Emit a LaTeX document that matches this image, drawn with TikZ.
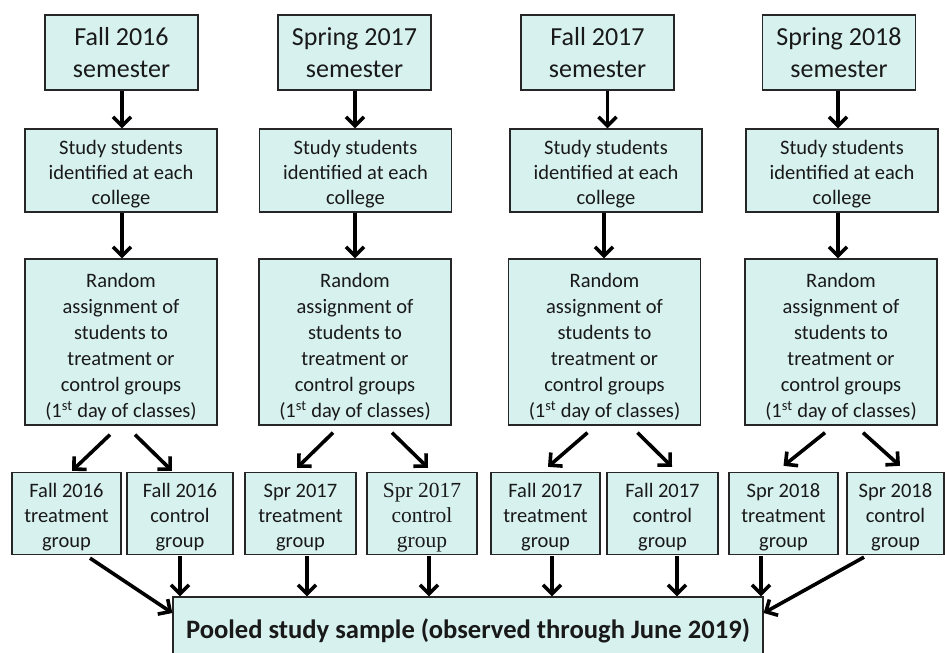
\documentclass[tikz,border=0pt]{standalone}
\usepackage{fontspec}
\setmainfont{Carlito}
\newfontfamily\serifalt{Liberation Serif}
\usetikzlibrary{arrows.meta,calc}
\definecolor{boxfill}{RGB}{214,241,238}
\newcommand{\lift}[1]{\rule{0pt}{#1}}
\begin{document}
\begin{tikzpicture}[x=1pt,y=-1pt,
  box/.style={draw=black!85,line width=1.3pt,fill=boxfill,align=center,inner sep=0pt,text=black!90},
  sembox/.style={box,minimum width=153pt,minimum height=75pt,font=\fontsize{26}{32}\selectfont},
  studybox/.style={box,minimum width=192pt,minimum height=83pt,font=\fontsize{20.5}{25}\selectfont},
  randbox/.style={box,minimum width=192pt,minimum height=166pt,font=\fontsize{20.5}{26}\selectfont},
  grpbox/.style={box,minimum height=82pt,font=\fontsize{20.5}{25}\selectfont},
  arr/.style={line width=3.6pt,-{Straight Barb[length=9pt,width=18pt,line width=3.6pt]}}]
\useasboundingbox (0,0) rectangle (945,653);

% semester boxes
\node[sembox] (s1) at (121.5,52.5) {Fall 2016\\semester};
\node[sembox] (s2) at (354.5,52.5) {Spring 2017\\semester};
\node[sembox] (s3) at (597.5,52.5) {Fall 2017\\semester};
\node[sembox] (s4) at (839,52.5) {Spring 2018\\semester};

% study boxes
\node[studybox] (d1) at (121,170.5) {\lift{22.5pt}Study students\\identified at each\\college};
\node[studybox] (d2) at (355.5,170.5) {\lift{22.5pt}Study students\\identified at each\\college};
\node[studybox] (d3) at (606,170.5) {\lift{22.5pt}Study students\\identified at each\\college};
\node[studybox] (d4) at (842,170.5) {\lift{22.5pt}Study students\\identified at each\\college};

% random assignment boxes
\node[randbox] (r1) at (121,342) {\lift{25pt}Random\\assignment of\\students to\\treatment or\\control groups\\(1\textsuperscript{st} day of classes)};
\node[randbox] (r2) at (355,342) {\lift{25pt}Random\\assignment of\\students to\\treatment or\\control groups\\(1\textsuperscript{st} day of classes)};
\node[randbox] (r3) at (604.5,342) {\lift{25pt}Random\\assignment of\\students to\\treatment or\\control groups\\(1\textsuperscript{st} day of classes)};
\node[randbox] (r4) at (841,342) {\lift{25pt}Random\\assignment of\\students to\\treatment or\\control groups\\(1\textsuperscript{st} day of classes)};

% group boxes
\node[grpbox,minimum width=109pt] (t1) at (66.5,513.5) {\lift{22.5pt}Fall 2016\\treatment\\group};
\node[grpbox,minimum width=106pt] (c1) at (180,513.5) {\lift{22.5pt}Fall 2016\\control\\group};
\node[grpbox,minimum width=111pt] (t2) at (300.5,513.5) {\lift{22.5pt}Spr 2017\\treatment\\group};
\node[grpbox,minimum width=110pt,font=\serifalt\fontsize{21.5}{25}\selectfont] (c2) at (422,513.5) {\lift{22.5pt}Spr 2017\\control\\group};
\node[grpbox,minimum width=109pt] (t3) at (545.5,513.5) {\lift{22.5pt}Fall 2017\\treatment\\group};
\node[grpbox,minimum width=111pt] (c3) at (662.5,513.5) {\lift{22.5pt}Fall 2017\\control\\group};
\node[grpbox,minimum width=109pt] (t4) at (783.5,513.5) {\lift{22.5pt}Spr 2018\\treatment\\group};
\node[grpbox,minimum width=97pt] (c4) at (895.5,513.5) {\lift{22.5pt}Spr 2018\\control\\group};

% pooled (runs past the bottom edge)
\node[box,minimum width=590pt,minimum height=68pt,font=\bfseries\fontsize{26.6}{30}\selectfont] (p) at (468,631) {Pooled study sample (observed through June 2019)};

% semester -> study
\draw[arr] ([xshift=0.5pt]s1.south) -- ([xshift=0.5pt]s1.south |- d1.north);
\draw[arr] ([xshift=0.5pt]s2.south) -- ([xshift=0.5pt]s2.south |- d2.north);
\draw[arr] ([xshift=10pt]s3.south) -- ([xshift=10pt]s3.south |- d3.north);
\draw[arr] ([xshift=-1pt]s4.south) -- ([xshift=-1pt]s4.south |- d4.north);

% study -> random
\draw[arr] ([xshift=1pt]d1.south) -- ([xshift=1pt]d1.south |- r1.north);
\draw[arr] ([xshift=-0.5pt]d2.south) -- ([xshift=-0.5pt]d2.south |- r2.north);
\draw[arr] ([xshift=-2pt]d3.south) -- ([xshift=-2pt]d3.south |- r3.north);
\draw[arr] ([xshift=-4pt]d4.south) -- ([xshift=-4pt]d4.south |- r4.north);

% random -> groups
\draw[arr] ([xshift=-11pt,yshift=-9pt]r1.south) -- ([xshift=5.5pt,yshift=1pt]t1.north);
\draw[arr] ([xshift=14pt,yshift=-9pt]r1.south) -- ([xshift=-8pt,yshift=1pt]c1.north);
\draw[arr] ([xshift=-22pt,yshift=-7pt]r2.south) -- ([xshift=-3.5pt,yshift=4pt]t2.north);
\draw[arr] ([xshift=37pt,yshift=-7pt]r2.south) -- ([xshift=6pt,yshift=4pt]c2.north);
\draw[arr] ([xshift=-17pt,yshift=-7pt]r3.south) -- ([xshift=2.5pt,yshift=5pt]t3.north);
\draw[arr] ([xshift=33pt,yshift=-7pt]r3.south) -- ([xshift=9.5pt,yshift=5pt]c3.north);
\draw[arr] ([xshift=-16pt,yshift=-7pt]r4.south) -- ([xshift=0pt,yshift=6pt]t4.north);
\draw[arr] ([xshift=22pt,yshift=-7pt]r4.south) -- ([xshift=4.5pt,yshift=6pt]c4.north);

% groups -> pooled
\draw[arr] ([xshift=23.5pt,yshift=-3pt]t1.south) -- ([yshift=18pt]p.west);
\draw[arr] ([yshift=-1pt]c1.south) -- (c1.south |- p.north);
\draw[arr] ([xshift=6.5pt,yshift=-1pt]t2.south) -- ([xshift=6.5pt]t2.south |- p.north);
\draw[arr] ([xshift=7pt,yshift=-1pt]c2.south) -- ([xshift=7pt]c2.south |- p.north);
\draw[arr] ([xshift=6.5pt,yshift=-1pt]t3.south) -- ([xshift=6.5pt]t3.south |- p.north);
\draw[arr] ([xshift=14.5pt,yshift=-1pt]c3.south) -- ([xshift=14.5pt]c3.south |- p.north);
\draw[arr] ([xshift=-22.5pt,yshift=-1pt]t4.south) -- ([xshift=-22.5pt]t4.south |- p.north);
\draw[arr] ([xshift=-31.5pt,yshift=-2pt]c4.south) -- ([yshift=18pt]p.east);
\end{tikzpicture}
\end{document}
